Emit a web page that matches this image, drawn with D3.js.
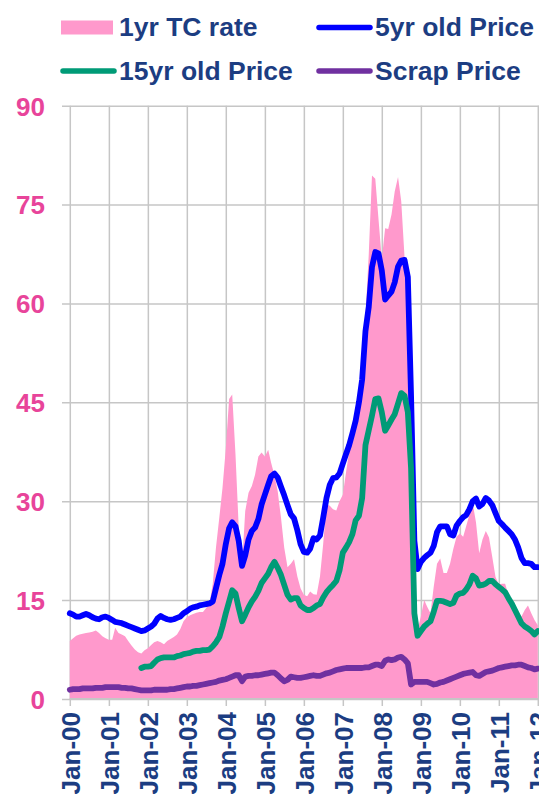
<!DOCTYPE html>
<html>
<head>
<meta charset="utf-8">
<script src="https://cdn.jsdelivr.net/npm/d3@7"></script>
<style>
  html, body { margin: 0; padding: 0; background: #fff; overflow: hidden; }
  svg { display: block; font-family: "Liberation Sans", Arial, sans-serif; font-weight: bold; }
</style>
</head>
<body>
<div id="viz"></div>
<script>
// monthly values, Jan-00 .. Jan-12
const yearLabels = ['Jan-00', 'Jan-01', 'Jan-02', 'Jan-03', 'Jan-04', 'Jan-05', 'Jan-06',
  'Jan-07', 'Jan-08', 'Jan-09', 'Jan-10', 'Jan-11', 'Jan-12'];
const yTicks = [0, 15, 30, 45, 60, 75, 90];

const tcRate = [
  8.8, 9.2, 9.6, 9.8, 9.9, 10.0, 10.1, 10.2, 10.4, 10.0, 9.5, 9.2,
  9.0, 9.0, 10.8, 10.0, 9.8, 9.5, 8.8, 8.1, 7.5, 7.1, 6.9, 7.4,
  7.7, 8.2, 8.6, 8.8, 8.6, 8.3, 8.8, 9.1, 9.4, 9.8, 10.6, 11.8,
  12.4, 12.7, 12.9, 13.1, 13.2, 13.2, 13.8, 14.5, 17.5, 23.0, 27.5, 32.0,
  38.0, 45.5, 46.2, 37.0, 26.0, 20.3, 28.5, 31.3, 32.3, 34.0, 36.8, 37.4,
  36.8, 37.8, 35.8, 33.9, 31.5, 27.5, 23.0, 20.0, 20.5, 21.2, 18.6, 16.8,
  15.8, 15.6, 16.3, 15.9, 15.8, 18.6, 23.5, 29.5, 29.3, 28.8, 28.6, 30.0,
  31.0, 34.5, 37.5, 39.5, 42.0, 46.0, 51.5, 58.0, 67.5, 79.4, 78.9, 72.8,
  66.7, 71.4, 71.3, 73.5, 77.0, 79.2, 75.5, 67.0, 60.5, 38.0, 20.0, 10.5,
  12.5, 15.0, 14.0, 13.0, 17.0, 20.5, 21.3, 19.1, 19.1, 20.5, 22.8, 24.6,
  25.1, 24.6, 26.2, 28.0, 29.7, 26.8, 22.1, 24.2, 25.5, 24.5, 21.5, 18.5,
  17.4, 17.5, 17.5, 15.8, 14.5, 13.8, 13.2, 12.5, 13.5, 14.2, 13.0, 12.0,
  11.2
];

const price5yr = [
  13.0, 12.8, 12.5, 12.5, 12.7, 12.9, 12.7, 12.4, 12.2, 12.1, 12.4, 12.5,
  12.3, 12.0, 11.7, 11.6, 11.5, 11.3, 11.1, 10.9, 10.7, 10.5, 10.3, 10.4,
  10.7, 11.0, 11.4, 12.2, 12.6, 12.3, 12.1, 12.0, 12.1, 12.3, 12.5, 13.0,
  13.3, 13.7, 13.9, 14.0, 14.2, 14.3, 14.4, 14.5, 14.8, 16.8, 18.8, 20.5,
  23.5, 25.9, 26.8, 26.2, 24.0, 20.2, 21.8, 24.2, 25.5, 26.0, 27.3, 29.5,
  31.0, 32.5, 33.8, 34.2, 33.6, 32.2, 30.9, 29.4, 28.0, 27.4, 25.6, 23.5,
  22.3, 22.2, 22.8, 24.4, 24.2, 24.8, 27.5, 30.5, 32.5, 33.5, 33.6, 34.2,
  35.7, 37.2, 38.5, 40.3, 42.2, 45.0, 48.5, 55.8, 59.5, 65.5, 67.8, 67.6,
  65.0, 60.6, 61.2, 61.8, 63.2, 65.6, 66.5, 66.6, 64.0, 46.0, 24.0, 19.7,
  20.8, 21.4, 21.8, 22.2, 23.2, 25.3, 26.2, 26.2, 26.2, 25.0, 24.8, 26.3,
  27.0, 27.6, 27.9, 28.8, 30.0, 30.4, 29.2, 29.6, 30.5, 30.1, 29.4, 28.2,
  27.0, 26.5, 26.0, 25.5, 25.0, 24.2, 23.0, 21.4, 20.6, 20.6, 20.5, 20.0,
  20.0
];

const price15yr = [
  null, null, null, null, null, null, null, null, null, null, null, null,
  null, null, null, null, null, null, null, null, null, null, 4.7, 4.9,
  4.9, 5.0, 5.5, 6.0, 6.2, 6.3, 6.3, 6.3, 6.3, 6.5, 6.6, 6.8,
  6.9, 7.0, 7.2, 7.3, 7.3, 7.4, 7.4, 7.5, 8.0, 8.6, 9.4, 11.0,
  13.0, 14.8, 16.5, 16.0, 13.8, 11.8, 12.8, 13.9, 14.8, 15.5, 16.4, 17.6,
  18.3, 19.0, 20.0, 20.8, 19.9, 18.8, 17.3, 15.8, 15.1, 15.3, 15.3, 14.2,
  13.8, 13.5, 13.5, 13.8, 14.2, 14.4, 15.4, 16.2, 16.8, 17.3, 17.9, 19.5,
  22.2, 23.0, 23.8, 25.0, 27.1, 27.8, 30.5, 38.5, 40.8, 43.0, 45.5, 45.6,
  43.5, 40.7, 41.5, 42.4, 43.2, 44.8, 46.4, 46.0, 43.5, 35.0, 13.0, 9.6,
  10.3, 11.0, 11.4, 11.8, 13.2, 14.9, 14.9, 14.8, 14.6, 14.4, 14.6, 15.7,
  16.0, 16.1, 16.6, 17.4, 18.7, 18.3, 17.2, 17.3, 17.5, 17.9, 17.9, 17.4,
  17.0, 16.6, 16.2, 15.3, 14.5, 13.5, 12.5, 11.5, 11.0, 10.7, 10.3, 9.8,
  10.3
];

const scrapPrice = [
  1.4, 1.5, 1.5, 1.5, 1.6, 1.6, 1.6, 1.6, 1.7, 1.7, 1.7, 1.8,
  1.8, 1.8, 1.8, 1.8, 1.7, 1.7, 1.6, 1.6, 1.5, 1.4, 1.3, 1.3,
  1.3, 1.3, 1.4, 1.4, 1.4, 1.4, 1.4, 1.5, 1.5, 1.6, 1.7, 1.8,
  1.9, 1.9, 2.0, 2.0, 2.1, 2.2, 2.3, 2.4, 2.5, 2.6, 2.8, 2.9,
  3.0, 3.2, 3.4, 3.6, 3.6, 2.7, 3.4, 3.5, 3.5, 3.6, 3.6, 3.7,
  3.8, 3.9, 4.0, 4.0, 3.6, 3.1, 2.7, 2.9, 3.4, 3.3, 3.2, 3.2,
  3.3, 3.4, 3.5, 3.6, 3.5, 3.5, 3.7, 3.9, 4.0, 4.2, 4.4, 4.5,
  4.6, 4.7, 4.7, 4.7, 4.7, 4.7, 4.7, 4.8, 4.8, 5.0, 5.2, 5.2,
  5.0, 5.8, 6.0, 5.9, 6.0, 6.3, 6.4, 6.0, 5.4, 2.2, 2.6, 2.6,
  2.6, 2.6, 2.6, 2.4, 2.2, 2.3, 2.5, 2.6, 2.8, 3.0, 3.2, 3.4,
  3.6, 3.8, 3.9, 4.0, 4.1, 3.6, 3.5, 3.8, 4.1, 4.2, 4.3, 4.5,
  4.7, 4.8, 4.9, 5.0, 5.1, 5.1, 5.2, 5.2, 5.0, 4.8, 4.7, 4.5,
  4.6
];

const seriesNames = ['1yr TC rate', '5yr old Price', '15yr old Price', 'Scrap Price'];
const seriesColors = ['#FF99CC', '#0000FF', '#009B77', '#7030A0'];

const canvasWidth = 539;
const canvasHeight = 805;
const navy = '#1C3D82';
const pinkText = '#E8449A';
const gridColor = '#C6C6C6';

const months = d3.timeMonth.range(new Date(2000, 0, 1), new Date(2012, 1, 1));
const years = d3.timeYear.range(new Date(2000, 0, 1), new Date(2012, 1, 1));

const x = d3.scaleTime()
  .domain([new Date(2000, 0, 1), new Date(2012, 0, 1)])
  .range([69.8, 537.8]);
const y = d3.scaleLinear()
  .domain([0, 90])
  .range([699, 105.7]);
const plotRight = 560;

const svg = d3.select('#viz')
  .append('svg')
  .attr('width', canvasWidth)
  .attr('height', canvasHeight);

// horizontal grid + y labels
const yAxis = svg.append('g')
  .attr('transform', 'translate(62,0)')
  .call(d3.axisLeft(y).tickValues(yTicks).tickFormat(d3.format('d'))
    .tickSize(-(plotRight - 62)).tickPadding(17));
yAxis.select('.domain').remove();
yAxis.selectAll('line').attr('stroke', gridColor).attr('stroke-width', 1.5);
yAxis.selectAll('text')
  .attr('fill', pinkText)
  .style('font-size', '26px')
  .style('font-weight', 'bold')
  .attr('dy', '0.36em');

// vertical grid
const xGrid = svg.append('g')
  .attr('transform', `translate(0,${y(0)})`)
  .call(d3.axisBottom(x).tickValues(years).tickSize(-(y(0) - y(90))).tickFormat(''));
xGrid.select('.domain').remove();
xGrid.selectAll('line').attr('stroke', gridColor).attr('stroke-width', 1.5);

// TC rate area
const area = d3.area()
  .x((d, i) => x(months[i]))
  .y0(y(0))
  .y1((d) => y(d));

svg.append('path')
  .datum(tcRate)
  .attr('fill', seriesColors[0])
  .attr('d', area);

// x axis
const xAxis = svg.append('g')
  .attr('transform', `translate(0,${y(0)})`)
  .call(d3.axisBottom(x).tickValues(years).tickSize(7)
    .tickFormat((d, i) => yearLabels[i]));
xAxis.select('.domain')
  .attr('d', `M${x.range()[0]},0H${plotRight}`)
  .attr('stroke', gridColor).attr('stroke-width', 2);
xAxis.selectAll('line').attr('stroke', gridColor).attr('stroke-width', 1.5);
xAxis.selectAll('text')
  .attr('fill', navy)
  .style('font-size', '26px')
  .style('font-weight', 'bold')
  .attr('text-anchor', 'end')
  .attr('transform', 'rotate(-90)')
  .attr('x', -13)
  .attr('y', 0)
  .attr('dy', '0.36em');

// price lines
const line = d3.line()
  .defined((d) => d !== null)
  .x((d, i) => x(months[i]))
  .y((d) => y(d));

[[price5yr, 1], [price15yr, 2], [scrapPrice, 3]].forEach(([data, k]) => {
  svg.append('path')
    .datum(data)
    .attr('fill', 'none')
    .attr('stroke', seriesColors[k])
    .attr('stroke-width', 5.8)
    .attr('stroke-linejoin', 'round')
    .attr('stroke-linecap', 'round')
    .attr('d', line);
});

// legend
const legendPos = [[61, 27.5, 36], [317, 27.5, 36], [61, 71, 80], [317, 71, 80]];
const legend = svg.append('g').attr('id', 'legend');
seriesNames.forEach((name, k) => {
  const [lx, ly, ty] = legendPos[k];
  if (k === 0) {
    legend.append('rect')
      .attr('x', lx).attr('y', ly - 7)
      .attr('width', 52).attr('height', 14)
      .attr('fill', seriesColors[k]);
  } else {
    legend.append('line')
      .attr('x1', lx + 2).attr('x2', lx + 53)
      .attr('y1', ly).attr('y2', ly)
      .attr('stroke', seriesColors[k])
      .attr('stroke-width', 5.5)
      .attr('stroke-linecap', 'round');
  }
  legend.append('text')
    .attr('x', lx + 58)
    .attr('y', ty)
    .attr('fill', navy)
    .style('font-size', '26.5px')
    .text(name);
});
</script>
</body>
</html>
